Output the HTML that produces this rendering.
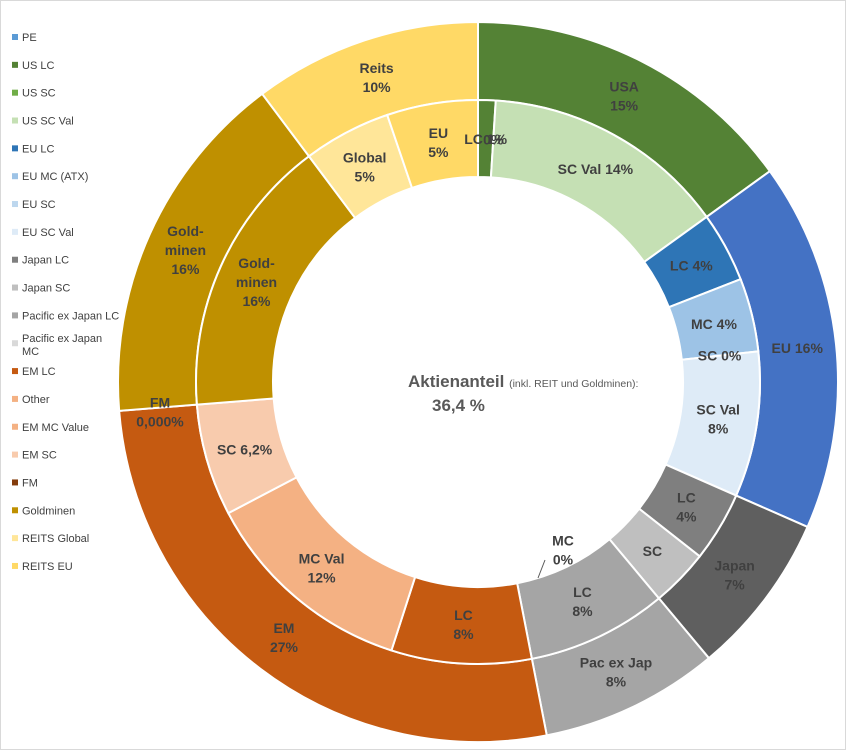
<!DOCTYPE html>
<html><head><meta charset="utf-8"><style>
body{margin:0;background:#fff;font-family:"Liberation Sans",sans-serif;}
svg{display:block}
</style></head><body>
<svg id="chart" width="846" height="750" xmlns="http://www.w3.org/2000/svg">
<rect x="0.5" y="0.5" width="845" height="749" fill="#fff" stroke="#d9d9d9"/>
<g id="legend"></g>
<g id="outer"></g>
<g id="inner"></g>
<g id="labels"></g>
<text x="408" y="387" font-size="17" font-weight="bold" fill="#595959">Aktienanteil <tspan font-size="10.5" font-weight="normal">(inkl. REIT und Goldminen):</tspan></text>
<text x="432" y="411" font-size="17" font-weight="bold" fill="#595959">36,4 %</text>
<line x1="545" y1="560" x2="538" y2="578" stroke="#595959" stroke-width="1"/>
</svg>
<script>
const innerNames=["PE","US LC","US SC","US SC Val","EU LC","EU MC (ATX)","EU SC","EU SC Val","Japan LC","Japan SC","Pacific ex Japan LC","Pacific ex Japan MC","EM LC","Other","EM MC Value","EM SC","FM","Goldminen","REITS Global","REITS EU"];
const innerValues=[0,1,0,14,4,4.2,0,8.3,4,3.3,8,0,8,0,12.3,6.4,0,16,5,5.2];
const innerGroup=[0,0,0,0,1,1,1,1,2,2,3,3,4,4,4,4,5,6,7,7];
const innerColors=["#5b9bd5","#548235","#70ad47","#c5e0b4","#2e75b6","#9dc3e6","#bdd7ee","#deebf7","#7f7f7f","#bfbfbf","#a5a5a5","#d9d9d9","#c55a11","#f4b183","#f4b183","#f8cbad","#843c0c","#bf9000","#ffe699","#ffd966"];
const innerLabels=["","LC 1%","0%","SC Val 14%","LC 4%","MC 4%","SC 0%","SC Val|8%","LC|4%","SC","LC|8%","","LC|8%","","MC Val|12%","SC 6,2%","","Gold-|minen|16%","Global|5%","EU|5%"];
const outerNames=["USA","EU","Japan","Pac ex Jap","EM","FM","Goldminen","Reits"];
const outerColors=["#548235","#4472c4","#5f5f5f","#a5a5a5","#c55a11","#843c0c","#bf9000","#ffd966"];
const outerLabels=["USA|15%","EU 16%","Japan|7%","Pac ex Jap|8%","EM|27%","","Gold-|minen|16%","Reits|10%"];
const cx=478,cy=382,R0=205,R1=282,R2=360;
const NS="http://www.w3.org/2000/svg";
const outerValues=outerNames.map((n,i)=>innerValues.reduce((s,v,j)=>s+(innerGroup[j]===i?v:0),0));
const total=innerValues.reduce((a,b)=>a+b,0);
function pt(a,r){return [cx+r*Math.sin(a),cy-r*Math.cos(a)];}
function arc(a0,a1,r0,r1){
  const l=(a1-a0)>Math.PI?1:0;const p=[pt(a0,r1),pt(a1,r1),pt(a1,r0),pt(a0,r0)];
  return `M${p[0]}A${r1},${r1} 0 ${l} 1 ${p[1]}L${p[2]}A${r0},${r0} 0 ${l} 0 ${p[3]}Z`;
}
function label(g,txt,x,y){
  if(!txt)return;const lines=txt.split("|");
  lines.forEach((s,k)=>{const t=document.createElementNS(NS,"text");
    t.setAttribute("x",x);t.setAttribute("y",y+(k-(lines.length-1)/2)*19+5);
    t.setAttribute("text-anchor","middle");t.setAttribute("font-size","14");t.setAttribute("font-weight","bold");t.setAttribute("fill","#404040");
    t.textContent=s;
    
    
    g.appendChild(t);});
}
function ring(gid,vals,cols,names,r0,r1,lr,labs){
  const g=document.getElementById(gid);let a=0;
  vals.forEach((v,i)=>{const a1=a+v/total*2*Math.PI;
    if(v>0){const p=document.createElementNS(NS,"path");p.setAttribute("d",arc(a,a1,r0,r1));
      p.setAttribute("fill",cols[i]);p.setAttribute("stroke","#fff");p.setAttribute("stroke-width","2");
      
      
      g.appendChild(p);}
    const m=(a+a1)/2,q=pt(m,lr);label(document.getElementById("labels"),labs[i],q[0],q[1]);a=a1;});
}
ring("outer",outerValues,outerColors,outerNames,R1,R2,321,outerLabels);
ring("inner",innerValues,innerColors,innerNames,R0,R1,243,innerLabels);
const lg=document.getElementById("labels");
label(lg,"FM|0,000%",160,412);
label(lg,"MC|0%",563,550);
const L=document.getElementById("legend");
innerNames.forEach((n,i)=>{const y=37+i*27.84;
  const r=document.createElementNS(NS,"rect");r.setAttribute("x",12);r.setAttribute("y",y-3);r.setAttribute("width",6);r.setAttribute("height",6);r.setAttribute("fill",innerColors[i]);
  
  
  L.appendChild(r);
  const t=document.createElementNS(NS,"text");t.setAttribute("x",22);t.setAttribute("y",y+4);t.setAttribute("font-size","11");t.setAttribute("fill","#404040");
  if(n==="Pacific ex Japan MC"){t.setAttribute("y",y-1);t.innerHTML='Pacific ex Japan<tspan x="22" dy="13">MC</tspan>';}else t.textContent=n;
  
  
  L.appendChild(t);});
</script>
</body></html>
